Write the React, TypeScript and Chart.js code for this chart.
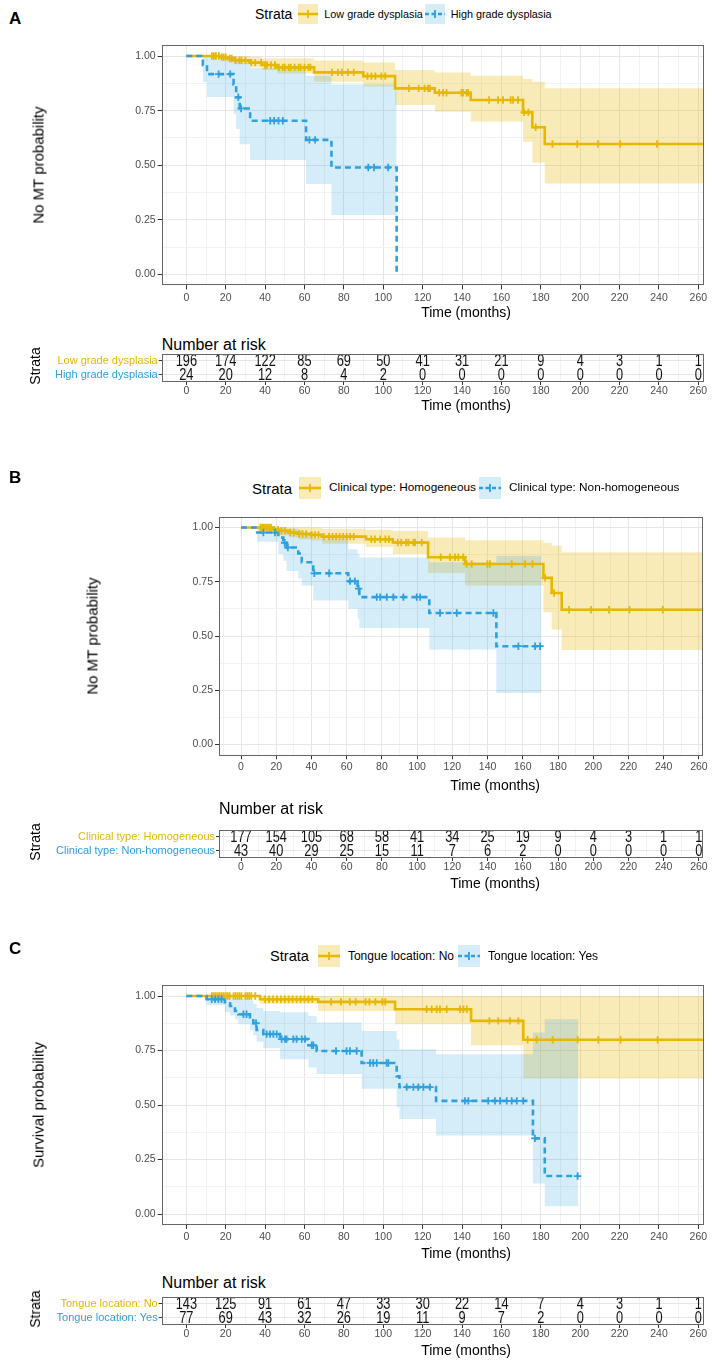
import React, { useEffect, useRef } from 'react';
import { Chart, registerables } from 'chart.js';
Chart.register(...registerables);

const FONT = "'Liberation Sans', Arial, Helvetica, sans-serif";
const GOLD = '#E7B800';
const BLUE = '#2E9FDF';
const GOLD_BAND = 'rgba(231, 184, 0, 0.28)';
const BLUE_BAND = 'rgba(46, 159, 223, 0.2)';
const GRID_MAJOR = '#E6E6E6';
const GRID_MINOR = '#F2F2F2';
const FRAME = '#666666';
const TICK_TEXT = '#4D4D4D';

const X_MIN = -12.5;
const X_MAX = 262.5;
const PLOT_RIGHT = 703.3;
const X_GRID = [-10, 0, 10, 20, 30, 40, 50, 60, 70, 80, 90, 100, 110, 120, 130, 140, 150, 160, 170, 180, 190, 200, 210, 220, 230, 240, 250, 260];
const Y_GRID = [0, 0.125, 0.25, 0.375, 0.5, 0.625, 0.75, 0.875, 1];
const RISK_TIMES = [0, 20, 40, 60, 80, 100, 120, 140, 160, 180, 200, 220, 240, 260];

// ---------- Panel A : dysplasia grade ----------
const A_LABELS = ['Low grade dysplasia', 'High grade dysplasia'];
const A_LOW_T = [0, 17, 20.6, 24.3, 32.4, 38.4, 46, 64.9, 89.9, 106, 126.2, 144.4, 171, 175.7, 182];
const A_LOW_S = [1, 0.995, 0.989, 0.98, 0.97, 0.959, 0.948, 0.925, 0.908, 0.852, 0.832, 0.799, 0.742, 0.674, 0.597];
const A_LOW_LO = [1, 0.985, 0.975, 0.962, 0.948, 0.936, 0.92, 0.882, 0.86, 0.776, 0.745, 0.7, 0.608, 0.512, 0.417];
const A_LOW_HI = [1, 1, 1, 1, 0.995, 0.99, 0.99, 0.98, 0.97, 0.936, 0.925, 0.91, 0.895, 0.882, 0.852];
const A_LOW_END = 262.5;
const A_LOW_CENS = [13, 14, 15, 16.5, 18, 19, 20, 22, 23, 25, 27, 28, 30, 33, 35, 38, 40, 41, 43, 45, 47, 49, 50, 52, 53, 55, 57, 58, 60, 62, 63, 74, 77, 79, 82, 85, 92, 94, 96, 99, 101, 113, 118, 121, 122.7, 123.7, 128.4, 130.4, 132.1, 139.7, 140.5, 142.3, 143.1, 153.7, 158.3, 160.8, 164.7, 165.9, 168.4, 171.5, 173.7, 177.4, 185.9, 198.5, 209, 220.3, 239];
const A_HIGH_T = [0, 8.4, 10.5, 24, 25.3, 27.1, 32.4, 60.8, 73.7, 106.8];
const A_HIGH_S = [1, 0.958, 0.917, 0.87, 0.811, 0.76, 0.704, 0.616, 0.49, 0];
const A_HIGH_LO = [1, 0.88, 0.812, 0.735, 0.666, 0.596, 0.524, 0.414, 0.272];
const A_HIGH_HI = [1, 1, 1, 1, 0.99, 0.97, 0.945, 0.91, 0.87];
const A_HIGH_END = 106.8;
const A_HIGH_CENS = [16.4, 22.3, 26.4, 27.8, 42.6, 44.6, 46.8, 49.0, 62.5, 65.4, 92.4, 95.3, 102.5];
const A_RISK_LOW = [196, 174, 122, 85, 69, 50, 41, 31, 21, 9, 4, 3, 1, 1];
const A_RISK_HIGH = [24, 20, 12, 8, 4, 2, 0, 0, 0, 0, 0, 0, 0, 0];

// ---------- Panel B : clinical type ----------
const B_LABELS = ['Clinical type: Homogeneous', 'Clinical type: Non-homogeneous'];
const B_HOM_T = [0, 18, 22, 27, 33, 40, 46, 71, 86.2, 106.2, 127.2, 171.7, 176.4, 182.1];
const B_HOM_S = [1, 0.99, 0.985, 0.977, 0.97, 0.966, 0.958, 0.946, 0.931, 0.863, 0.832, 0.768, 0.698, 0.621];
const B_HOM_LO = [1, 0.975, 0.965, 0.955, 0.945, 0.94, 0.925, 0.91, 0.878, 0.79, 0.733, 0.61, 0.53, 0.435];
const B_HOM_HI = [1, 1, 1, 1, 1, 1, 0.995, 0.99, 0.984, 0.954, 0.942, 0.93, 0.916, 0.886];
const B_HOM_END = 262.5;
const B_HOM_CENS = [11, 12, 13, 14, 15, 16, 17, 19, 21, 23, 25, 28, 30, 33, 35, 37, 40, 42, 44, 47, 50, 52, 54, 56, 58, 60, 62, 64, 74, 76, 79, 82, 84, 89, 91, 93.7, 95, 97.9, 98.8, 102.6, 113.4, 118.7, 121.5, 123.4, 126.2, 128.1, 131, 139.9, 141.4, 153.7, 161.3, 165.5, 172.7, 177.8, 186.3, 198.8, 209, 220.6, 239.5];
const B_NON_T = [0, 9.2, 21.2, 24, 25.9, 32.5, 34.5, 41, 60.9, 66.2, 67.2, 106.9, 145];
const B_NON_S = [1, 0.977, 0.954, 0.93, 0.908, 0.88, 0.84, 0.789, 0.753, 0.718, 0.679, 0.606, 0.453];
const B_NON_LO = [1, 0.934, 0.878, 0.847, 0.8, 0.765, 0.733, 0.664, 0.626, 0.58, 0.537, 0.438, 0.237];
const B_NON_HI = [1, 1, 1, 1, 0.995, 0.99, 0.98, 0.95, 0.9, 0.88, 0.862, 0.84, 0.87];
const B_NON_END = 170.6;
const B_NON_CENS = [12.7, 19.3, 24.8, 26.6, 41.6, 50.1, 61.9, 64.7, 66.8, 77.1, 79, 82.8, 86.5, 92.2, 99.8, 101.7, 113, 122.5, 143.3, 157.5, 167, 169.8];
const B_RISK_HOM = [177, 154, 105, 68, 58, 41, 34, 25, 19, 9, 4, 3, 1, 1];
const B_RISK_NON = [43, 40, 29, 25, 15, 11, 7, 6, 2, 0, 0, 0, 0, 0];

// ---------- Panel C : tongue location ----------
const C_LABELS = ['Tongue location: No', 'Tongue location: Yes'];
const C_NO_T = [0, 37.4, 67, 106, 144.6, 171.1];
const C_NO_S = [1, 0.985, 0.973, 0.939, 0.886, 0.799];
const C_NO_LO = [1, 0.965, 0.931, 0.87, 0.774, 0.622];
const C_NO_HI = [1, 1, 1, 1, 1, 1];
const C_NO_END = 262.5;
const C_NO_CENS = [13, 14, 15, 16, 17, 18, 19, 20, 21, 22, 24, 25, 26, 27, 28, 30, 31, 32, 33, 35, 40, 42, 44, 46, 48, 50, 52, 54, 56, 58, 60, 62, 64, 73.5, 78.5, 83, 86, 91, 93, 96, 99.5, 101, 122, 124.6, 127.1, 128.8, 132.2, 139, 140.7, 142.4, 153.9, 158.4, 164.3, 168.6, 173.3, 177.9, 186, 198.7, 209.2, 220.5, 239.3];
const C_YES_T = [0, 10.3, 19.6, 22.2, 24.7, 26.4, 32.3, 34, 35.7, 39.1, 47.6, 62, 66.2, 89, 106.8, 108.2, 126.8, 176, 182];
const C_YES_S = [1, 0.985, 0.966, 0.954, 0.931, 0.916, 0.896, 0.875, 0.844, 0.825, 0.802, 0.774, 0.748, 0.693, 0.632, 0.582, 0.519, 0.347, 0.174];
const C_YES_LO = [1, 0.958, 0.925, 0.91, 0.893, 0.87, 0.845, 0.82, 0.79, 0.76, 0.71, 0.672, 0.642, 0.574, 0.49, 0.436, 0.36, 0.14, 0.036];
const C_YES_HI = [1, 1, 1, 1, 0.995, 0.99, 0.98, 0.965, 0.945, 0.931, 0.925, 0.908, 0.878, 0.84, 0.8, 0.756, 0.733, 0.832, 0.893];
const C_YES_END = 199;
const C_YES_CENS = [12.9, 14.6, 16.3, 17.9, 29, 30.6, 35.4, 40.8, 42.5, 44.2, 45.9, 48.4, 50.1, 50.9, 54.3, 56, 58.6, 60.3, 63.7, 64.5, 76, 81.4, 83.1, 86.5, 93.3, 94.9, 96.7, 101.7, 102.6, 111.9, 115.3, 117.8, 120.4, 123.7, 141.5, 143.2, 153.3, 156.7, 159.3, 162.7, 165.2, 167.8, 171.1, 177, 198.7];
const C_RISK_NO = [143, 125, 91, 61, 47, 33, 30, 22, 14, 7, 4, 3, 1, 1];
const C_RISK_YES = [77, 69, 43, 32, 26, 19, 11, 9, 7, 2, 0, 0, 0, 0];

interface Curve { t: number[]; s: number[]; lo: number[]; hi: number[]; end: number; cens: number[]; color: string; band: string; dash: number[]; }

function stepAt(t: number[], s: number[], x: number): number {
  let v = s[0];
  for (let i = 0; i < t.length; i++) if (t[i] <= x) v = s[i];
  return v;
}
function linePts(c: Curve) {
  const pts = c.t.map((x, i) => ({ x, y: c.s[i] }));
  if (c.end > c.t[c.t.length - 1]) pts.push({ x: c.end, y: c.s[c.s.length - 1] });
  return pts;
}
function bandPts(c: Curve, arr: number[]) {
  const pts = arr.map((v, i) => ({ x: c.t[i], y: v }));
  const bandEnd = arr.length < c.t.length ? c.t[arr.length] : c.end;
  pts.push({ x: bandEnd, y: arr[arr.length - 1] });
  return pts;
}

const isMajorX = (v: number) => Math.abs(v % 20) < 1e-9;
const isMajorY = (v: number) => Math.abs(v * 4 - Math.round(v * 4)) < 1e-9;

const framePlugin = {
  id: 'frame',
  afterDraw(chart: any) {
    const { ctx, chartArea: a } = chart;
    ctx.save();
    ctx.strokeStyle = FRAME;
    ctx.lineWidth = 1;
    ctx.strokeRect(Math.round(a.left) + 0.5, Math.round(a.top) + 0.5, Math.round(a.right - a.left) - 1, Math.round(a.bottom - a.top) - 1);
    ctx.restore();
  },
};

function xScaleOpts(axisH: number, tickLen: number, pad: number) {
  return {
    type: 'linear',
    min: X_MIN,
    max: X_MAX,
    afterBuildTicks: (s: any) => { s.ticks = X_GRID.map((v) => ({ value: v })); },
    afterFit: (s: any) => { s.height = axisH; },
    border: { display: false },
    grid: {
      color: (c: any) => (c.tick && isMajorX(c.tick.value) ? GRID_MAJOR : GRID_MINOR),
      lineWidth: 1,
      drawTicks: true,
      tickLength: tickLen,
      tickWidth: 1,
      tickColor: (c: any) => (c.tick && isMajorX(c.tick.value) ? '#333333' : 'rgba(0,0,0,0)'),
    },
    ticks: {
      autoSkip: false, maxRotation: 0, minRotation: 0, padding: pad, color: TICK_TEXT,
      font: { family: FONT, size: 10.5 },
      callback: (v: number) => (isMajorX(v) ? String(v) : ''),
    },
  };
}

function kmConfig(canvasTop: number, canvasH: number, left: number, plotTop: number, plotBottom: number, gold: Curve, blue: Curve) {
  const datasets: any[] = [];
  for (const c of [blue, gold]) {
    datasets.push({
      data: c.cens.map((x) => ({ x, y: stepAt(c.t, c.s, x) })),
      showLine: false, pointStyle: 'cross', pointRadius: 3.7, pointBorderWidth: 1.8,
      pointBorderColor: c.color, pointBackgroundColor: c.color, borderColor: c.color,
    });
  }
  for (const c of [blue, gold]) {
    datasets.push({
      data: linePts(c), stepped: 'before', borderColor: c.color, borderWidth: 2.6,
      borderDash: c.dash, borderCapStyle: 'butt', pointRadius: 0, fill: false,
    });
  }
  for (const c of [blue, gold]) {
    datasets.push({ data: bandPts(c, c.hi), stepped: 'before', borderColor: 'rgba(0,0,0,0)', borderWidth: 0, pointRadius: 0, fill: false });
    datasets.push({ data: bandPts(c, c.lo), stepped: 'before', borderColor: 'rgba(0,0,0,0)', borderWidth: 0, pointRadius: 0, fill: '-1', backgroundColor: c.band });
  }
  return {
    type: 'line',
    data: { datasets },
    options: {
      responsive: false,
      animation: false,
      events: [],
      layout: { padding: { left: 0, right: 712 - PLOT_RIGHT, top: plotTop - canvasTop, bottom: 0 } },
      plugins: { legend: { display: false }, tooltip: { enabled: false } },
      scales: {
        x: xScaleOpts(canvasTop + canvasH - plotBottom, 4, 2),
        y: {
          type: 'linear', min: -0.05, max: 1.05,
          afterBuildTicks: (s: any) => { s.ticks = Y_GRID.map((v) => ({ value: v })); },
          afterFit: (s: any) => { s.width = left; },
          border: { display: false },
          grid: {
            color: (c: any) => (c.tick && isMajorY(c.tick.value) ? GRID_MAJOR : GRID_MINOR),
            lineWidth: 1, drawTicks: true, tickLength: 4, tickWidth: 1,
            tickColor: (c: any) => (c.tick && isMajorY(c.tick.value) ? '#333333' : 'rgba(0,0,0,0)'),
          },
          ticks: {
            autoSkip: false, padding: 2, color: TICK_TEXT, font: { family: FONT, size: 10.5 },
            callback: (v: number) => (isMajorY(v) ? v.toFixed(2) : ''),
          },
        },
      },
    },
    plugins: [framePlugin],
  };
}

function riskConfig(canvasTop: number, canvasH: number, left: number, boxTop: number, boxBottom: number, labels: string[], topRow: number[], bottomRow: number[]) {
  const rows = [{ y: 2, values: topRow }, { y: 1, values: bottomRow }];
  const textPlugin = {
    id: 'riskText',
    afterDatasetsDraw(chart: any) {
      const { ctx, scales } = chart;
      ctx.save();
      ctx.font = `16px ${FONT}`;
      ctx.fillStyle = '#111111';
      ctx.textAlign = 'center';
      ctx.textBaseline = 'middle';
      for (const r of rows) {
        r.values.forEach((v, i) => {
          ctx.save();
          ctx.translate(scales.x.getPixelForValue(RISK_TIMES[i]), scales.y.getPixelForValue(r.y) + 0.5);
          ctx.scale(0.8, 1);
          ctx.fillText(String(v), 0, 0);
          ctx.restore();
        });
      }
      ctx.restore();
    },
  };
  return {
    type: 'line',
    data: { datasets: [{ data: RISK_TIMES.map((x) => ({ x, y: 1.5 })), showLine: false, pointRadius: 0 }] },
    options: {
      responsive: false,
      animation: false,
      events: [],
      layout: { padding: { left: 0, right: 712 - PLOT_RIGHT, top: boxTop - canvasTop, bottom: 0 } },
      plugins: { legend: { display: false }, tooltip: { enabled: false } },
      scales: {
        x: xScaleOpts(canvasTop + canvasH - boxBottom, 3, 0),
        y: {
          type: 'linear', min: 0.5, max: 2.5,
          afterBuildTicks: (s: any) => { s.ticks = [{ value: 1 }, { value: 2 }]; },
          afterFit: (s: any) => { s.width = left; },
          border: { display: false },
          grid: { color: GRID_MAJOR, lineWidth: 1, drawTicks: true, tickLength: 3, tickWidth: 1, tickColor: '#333333' },
          ticks: {
            autoSkip: false, padding: 1, font: { family: FONT, size: 11 },
            color: (c: any) => (c.tick && c.tick.value === 2 ? GOLD : BLUE),
            callback: (v: number) => (v === 2 ? labels[0] : labels[1]),
          },
        },
      },
    },
    plugins: [framePlugin, textPlugin],
  };
}

function ChartBox({ top, height, build }: { top: number; height: number; build: () => any }) {
  const ref = useRef<HTMLCanvasElement>(null);
  useEffect(() => {
    const chart = new Chart(ref.current as HTMLCanvasElement, build() as any);
    return () => chart.destroy();
  }, []);
  return <canvas ref={ref} width={712} height={height} style={{ position: 'absolute', left: 0, top, width: 712, height }} />;
}

function T({ x, y, s, children, a = 'left', c = '#000', w = 400, rot = false }: any) {
  const tx = a === 'left' ? '0' : a === 'center' ? '-50%' : '-100%';
  return (
    <div style={{
      position: 'absolute', left: x, top: y, fontSize: s, color: c, fontWeight: w, lineHeight: 1,
      whiteSpace: 'nowrap', transform: rot ? 'translate(-50%,-50%) rotate(-90deg)' : `translate(${tx},-50%)`,
    }}>{children}</div>
  );
}

function Key({ color, band, dashed, size }: { color: string; band: string; dashed: boolean; size: number }) {
  const m = size / 2;
  return (
    <svg width={size} height={size} style={{ display: 'block' }}>
      <rect x={0} y={0} width={size} height={size} fill={band} />
      <line x1={0} y1={m} x2={size} y2={m} stroke={color} strokeWidth={2.6} strokeDasharray={dashed ? '4 2.5' : undefined} />
      <line x1={m} y1={m - 4} x2={m} y2={m + 4} stroke={color} strokeWidth={1.8} />
    </svg>
  );
}

interface LegendStyle { strata: number; label: number; key: number; g1: number; g2: number; g3: number; }

function Legend({ x, y, labels, st }: { x: number; y: number; labels: string[]; st: LegendStyle }) {
  return (
    <div style={{ position: 'absolute', left: x, top: y, transform: 'translateY(-50%)', display: 'flex', alignItems: 'center', whiteSpace: 'nowrap' }}>
      <span style={{ fontSize: st.strata, marginRight: st.g1, lineHeight: 1 }}>Strata</span>
      <Key color={GOLD} band={GOLD_BAND} dashed={false} size={st.key} />
      <span style={{ fontSize: st.label, marginLeft: st.g2, marginRight: st.g3, lineHeight: 1 }}>{labels[0]}</span>
      <Key color={BLUE} band={BLUE_BAND} dashed={true} size={st.key} />
      <span style={{ fontSize: st.label, marginLeft: st.g2, lineHeight: 1 }}>{labels[1]}</span>
    </div>
  );
}

const LEG_A: LegendStyle = { strata: 14, label: 10.8, key: 20, g1: 6, g2: 6, g3: 2 };
const LEG_B: LegendStyle = { strata: 15, label: 11.8, key: 22, g1: 7, g2: 8, g3: 3 };
const LEG_C: LegendStyle = { strata: 14.6, label: 12, key: 22, g1: 9, g2: 8, g3: 4 };

interface PanelProps {
  letter: string; letterY: number; legendX: number; legendY: number; labels: string[]; leg: LegendStyle;
  yTitle: string; yTitleX: number; left: number; plotTop: number; plotBottom: number;
  titleCx: number; xTitleY: number; narY: number; boxTop: number; boxBottom: number; tXTitleY: number;
  gold: Curve; blue: Curve; riskTop: number[]; riskBottom: number[];
}

function Panel(p: PanelProps) {
  const cTop = Math.floor(p.plotTop - 12);
  const cH = Math.ceil(p.plotBottom + 26 - cTop);
  const rTop = Math.floor(p.boxTop - 3);
  const rH = Math.ceil(p.boxBottom + 20 - rTop);
  return (
    <>
      <T x={9} y={p.letterY} s={17} w={700}>{p.letter}</T>
      <Legend x={p.legendX} y={p.legendY} labels={p.labels} st={p.leg} />
      <ChartBox top={cTop} height={cH} build={() => kmConfig(cTop, cH, p.left, p.plotTop, p.plotBottom, p.gold, p.blue)} />
      <T x={p.yTitleX} y={(p.plotTop + p.plotBottom) / 2} s={15} rot>{p.yTitle}</T>
      <T x={p.titleCx} y={p.xTitleY} s={14} a="center">Time (months)</T>
      <T x={p.left} y={p.narY} s={16}>Number at risk</T>
      <ChartBox top={rTop} height={rH} build={() => riskConfig(rTop, rH, p.left, p.boxTop, p.boxBottom, p.labels, p.riskTop, p.riskBottom)} />
      <T x={35} y={(p.boxTop + p.boxBottom) / 2} s={14} rot>Strata</T>
      <T x={p.titleCx} y={p.tXTitleY} s={14} a="center">Time (months)</T>
    </>
  );
}

const mk = (t: number[], s: number[], lo: number[], hi: number[], end: number, cens: number[], gold: boolean): Curve => ({
  t, s, lo, hi, end, cens, color: gold ? GOLD : BLUE, band: gold ? GOLD_BAND : BLUE_BAND, dash: gold ? [] : [6, 4],
});

export default function App() {
  return (
    <div style={{ position: 'absolute', left: 0, top: 0, width: 712, height: 1371, overflow: 'hidden', background: '#fff', fontFamily: FONT, color: '#000' }}>
      <Panel
        letter="A" letterY={18} legendX={255} legendY={14} labels={A_LABELS} leg={LEG_A}
        yTitle="No MT probability" yTitleX={38} left={161.7} plotTop={45.1} plotBottom={285.4}
        titleCx={466} xTitleY={312} narY={345} boxTop={349} boxBottom={382} tXTitleY={405}
        gold={mk(A_LOW_T, A_LOW_S, A_LOW_LO, A_LOW_HI, A_LOW_END, A_LOW_CENS, true)}
        blue={mk(A_HIGH_T, A_HIGH_S, A_HIGH_LO, A_HIGH_HI, A_HIGH_END, A_HIGH_CENS, false)}
        riskTop={A_RISK_LOW} riskBottom={A_RISK_HIGH}
      />
      <Panel
        letter="B" letterY={477} legendX={252} legendY={488} labels={B_LABELS} leg={LEG_B}
        yTitle="No MT probability" yTitleX={92} left={219} plotTop={516.7} plotBottom={755.3}
        titleCx={495} xTitleY={785} narY={809} boxTop={825} boxBottom={858} tXTitleY={883}
        gold={mk(B_HOM_T, B_HOM_S, B_HOM_LO, B_HOM_HI, B_HOM_END, B_HOM_CENS, true)}
        blue={mk(B_NON_T, B_NON_S, B_NON_LO, B_NON_HI, B_NON_END, B_NON_CENS, false)}
        riskTop={B_RISK_HOM} riskBottom={B_RISK_NON}
      />
      <Panel
        letter="C" letterY={948} legendX={270} legendY={956} labels={C_LABELS} leg={LEG_C}
        yTitle="Survival probability" yTitleX={38} left={161.7} plotTop={985.1} plotBottom={1224.9}
        titleCx={466} xTitleY={1253} narY={1283} boxTop={1292} boxBottom={1325} tXTitleY={1350}
        gold={mk(C_NO_T, C_NO_S, C_NO_LO, C_NO_HI, C_NO_END, C_NO_CENS, true)}
        blue={mk(C_YES_T, C_YES_S, C_YES_LO, C_YES_HI, C_YES_END, C_YES_CENS, false)}
        riskTop={C_RISK_NO} riskBottom={C_RISK_YES}
      />
    </div>
  );
}
